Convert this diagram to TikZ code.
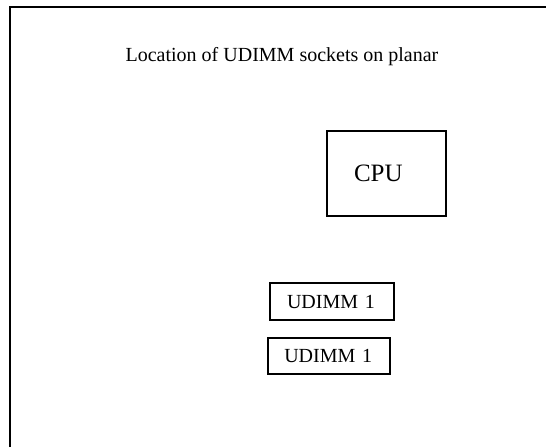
\documentclass[tikz,border=0pt]{standalone}
\usepackage{fontspec}
\setmainfont{Liberation Serif}
\begin{document}
\begin{tikzpicture}[x=1pt, y=-1pt,
        every node/.style={font=\fontsize{20}{24}\selectfont},
        part/.style={draw, line width=2pt, anchor=north west, align=left, inner ysep=0pt}]
        \useasboundingbox (0, 0) rectangle (546, 447);
        \draw[line width=2pt] (10, 447) -- (10, 7) -- (546, 7);
        \node[anchor=base] (title) at (282, 61.7) {Location of UDIMM sockets on planar};
        \node[part, font=\fontsize{25}{30}\selectfont, inner xsep=27pt, text width=65pt, minimum height=85pt] (cpu) at (326, 130) {CPU};
        \node[part, inner xsep=16.7pt, text width=90pt, minimum height=36.7pt] (dimmA) at (269.3, 282.3) {UDIMM 1};
        \node[part, inner xsep=16pt, text width=90pt, minimum height=36.6pt] (dimmB) at (267.3, 336.7) {UDIMM 1};
    \end{tikzpicture}
\end{document}
